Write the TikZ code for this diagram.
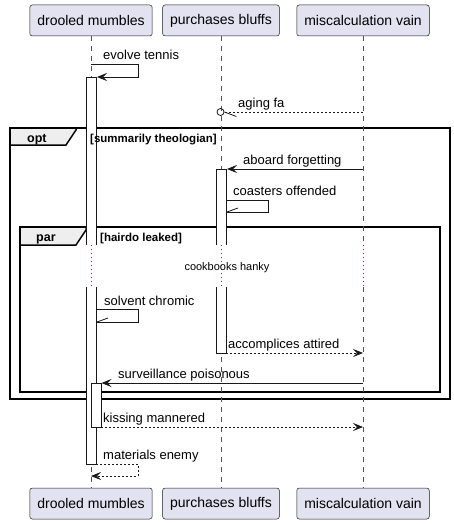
\documentclass[tikz,border=0pt]{standalone}
\usepackage{fontspec}
\setmainfont{Liberation Sans}
\usetikzlibrary{arrows.meta}
\definecolor{partfill}{HTML}{E2E2F0}
\definecolor{partline}{HTML}{181818}
\definecolor{tabfill}{HTML}{EEEEEE}
\definecolor{delaydot}{HTML}{8B1A4A}

\tikzset{
  partbox/.style={draw=partline, fill=partfill, rounded corners=2.5pt, line width=0.5pt,
    minimum height=31pt, inner xsep=7.5pt, font=\fontsize{14}{16}\selectfont},
  lifeline/.style={draw=partline!75, line width=0.5pt, dash pattern=on 5pt off 5pt},
  delayline/.style={draw=delaydot, line width=0.7pt, dash pattern=on 1pt off 3pt},
  actbar/.style={draw=partline, fill=white, line width=0.8pt},
  msg/.style={draw=partline, line width=0.8pt, -{Stealth[length=10pt,width=8pt,inset=4pt]}},
  reply/.style={msg, dash pattern=on 2pt off 2pt},
  selfmsg/.style={draw=partline, line width=0.8pt},
  msglabel/.style={anchor=base west, inner sep=0pt, font=\fontsize{13}{15}\selectfont},
  framebox/.style={draw=black, line width=1.5pt},
  tabbox/.style={draw=black, fill=tabfill, line width=1.5pt},
  tablabel/.style={anchor=base west, inner sep=0pt, font=\bfseries\fontsize{12.5}{14}\selectfont},
  guardlabel/.style={anchor=base west, inner sep=0pt, font=\bfseries\fontsize{11.5}{13}\selectfont},
}

\begin{document}
\begin{tikzpicture}[x=1pt,y=-1pt]
\useasboundingbox (0,0) rectangle (454,524);

% frames
\draw[framebox] (10,128) rectangle (450,399);
\filldraw[tabbox] (10,128) -- (76,128) -- (76,130) -- (66,145) -- (10,145) -- cycle;
\node[tablabel] (optTab) at (27,142) {opt};

\draw[framebox] (20,227) rectangle (440,392);
\filldraw[tabbox] (20,227) -- (86,227) -- (86,230) -- (76,245) -- (20,245) -- cycle;
\node[tablabel] (parTab) at (36,241) {par};

% participants
\node[partbox] (dmTop) at (91,20.5) {drooled mumbles};
\node[partbox] (pbTop) at (221,20.5) {purchases bluffs};
\node[partbox] (mvTop) at (363,20.5) {miscalculation vain};
\node[partbox] (dmBot) at (91,503.5) {drooled mumbles};
\node[partbox] (pbBot) at (221,503.5) {purchases bluffs};
\node[partbox] (mvBot) at (363,503.5) {miscalculation vain};

% lifelines, dotted during the delay
\foreach \p in {dm,pb,mv}
{
  \draw[lifeline] (\p Top.south) -- (\p Top |- 0,245);
  \draw[delayline] (\p Top |- 0,245) -- (\p Top |- 0,287);
  \draw[lifeline] (\p Top |- 0,287) -- (\p Bot.north);
}
\node[anchor=base, inner sep=0pt, font=\fontsize{11}{13}\selectfont] (delayTxt) at (227,270) {cookbooks hanky};

% activations
\filldraw[actbar] (86,245) |- (96,77) -- (96,245);
\filldraw[actbar] (86,287) |- (96,464) -- (96,287);
\filldraw[actbar] (216,245) |- (226,169) -- (226,245);
\filldraw[actbar] (216,287) |- (226,353) -- (226,287);
\filldraw[actbar] (91,383) rectangle (101,427);

% guards on top of the bars
\node[guardlabel] (optGuard) at (90,142) {[summarily theologian]};
\node[guardlabel] (parGuard) at (100,241) {[hairdo leaked]};

\coordinate (dmActA) at (97,77);
\coordinate (dmActB) at (96,309);
\coordinate (dmActC) at (97,322);
\coordinate (dmActEnd) at (96,464);
\coordinate (dmNestTop) at (101.5,383);
\coordinate (dmNestEnd) at (101,427);
\coordinate (pbActA) at (227,169);
\coordinate (pbActB) at (226,200);
\coordinate (pbActC) at (227,212);
\coordinate (pbActEnd) at (226,353);

% messages
\draw[msg] (dmTop |- 0,64) -| (138,77) -- (dmActA);
\node[msglabel] (lblEvolve) at (103,60) {evolve tennis};

\node[circle, draw=partline, line width=0.8pt, minimum size=7pt, inner sep=0pt] (pbCirc) at (220.5,112) {};
\draw[selfmsg, dash pattern=on 2pt off 2pt] (mvTop |- 0,112) -- (pbCirc.east);
\draw[selfmsg] (pbCirc.east) -- ++(12,4.5);
\node[msglabel] (lblAging) at (238,108) {aging fa};

\draw[msg] (mvTop |- 0,169) -- (pbActA);
\node[msglabel] (lblAboard) at (243,164) {aboard forgetting};

\draw[selfmsg] (pbActB) -| (268,212) -- (pbActC);
\draw[selfmsg] (pbActC) -- ++(11,-4);
\node[msglabel] (lblCoasters) at (233,195) {coasters offended};

\draw[selfmsg] (dmActB) -| (138,322) -- (dmActC);
\draw[selfmsg] (dmActC) -- ++(11,-4);
\node[msglabel] (lblSolvent) at (104,305) {solvent chromic};

\draw[reply] (pbActEnd) -- (mvTop |- 0,353);
\node[msglabel] (lblAccomp) at (228,348) {accomplices attired};

\draw[msg] (mvTop |- 0,383) -- (dmNestTop);
\node[msglabel] (lblSurv) at (118,378) {surveillance poisonous};

\draw[reply] (dmNestEnd) -- (mvTop |- 0,427);
\node[msglabel] (lblKiss) at (103,422) {kissing mannered};

\draw[reply] (dmActEnd) -| (138,476) -- (dmTop |- 0,476);
\node[msglabel] (lblMater) at (103,459) {materials enemy};
\end{tikzpicture}
\end{document}
